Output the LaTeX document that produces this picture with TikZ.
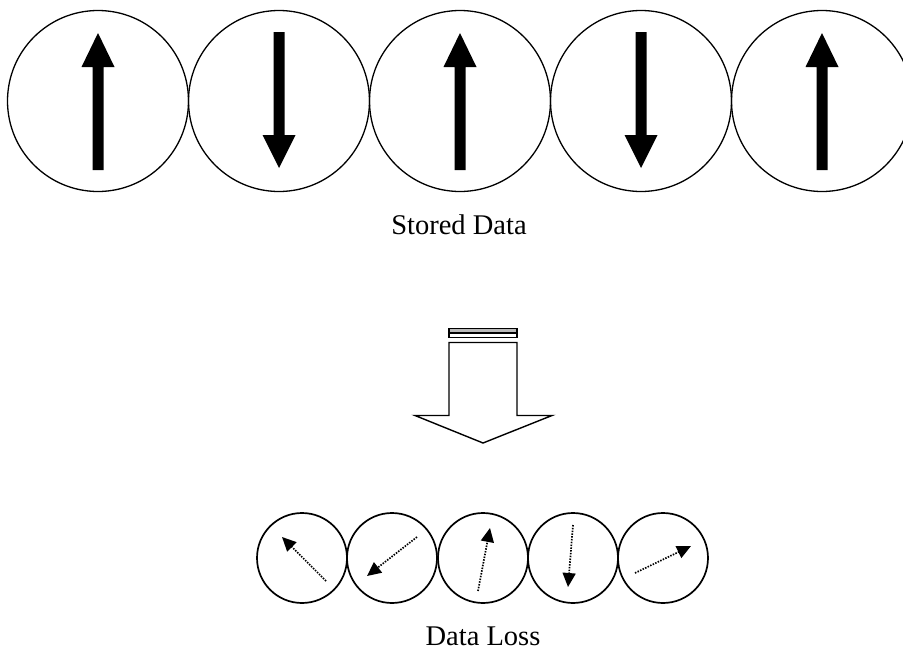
\documentclass[tikz,border=0pt]{standalone}
\usepackage{fontspec}
\setmainfont{Liberation Serif}
\usetikzlibrary{arrows.meta}
\begin{document}
\begin{tikzpicture}[x=1pt,y=-1pt,
  bigcirc/.style={draw,circle,line width=1.3pt,minimum size=181pt,inner sep=0pt},
  smallcirc/.style={draw,circle,line width=1.7pt,minimum size=90pt,inner sep=0pt},
  lostspin/.style={line width=1.7pt,dash pattern=on 1.5pt off 1.3pt,-{Triangle[length=14pt,width=13pt]}},
  hollow/.style={line width=1.4pt,line join=miter},
  label/.style={font=\fontsize{28.5}{32}\selectfont,inner sep=0pt,anchor=base}]
\useasboundingbox (0,0) rectangle (903,656);
\fill[white] (0,0) rectangle (903,656);
% top row
\foreach \i/\x in {1/98,2/279,3/460,4/641,5/822}{
  \node[bigcirc] (c\i) at (\x,101) {};
}
% up arrows
\foreach \x in {98,460,822}{
  \fill (\x-5.5,170) -- (\x+5.5,170) -- (\x+5.5,67) -- (\x+16.5,67)
     -- (\x,33) -- (\x-16.5,67) -- (\x-5.5,67) -- cycle;
}
% down arrows
\foreach \x in {279,641}{
  \fill (\x-5.5,32) -- (\x+5.5,32) -- (\x+5.5,135) -- (\x+16.5,135)
     -- (\x,168) -- (\x-16.5,135) -- (\x-5.5,135) -- cycle;
}
\node[label] (stored) at (459,234) {Stored Data};
% big hollow arrow
\fill[gray!55] (449,328.5) rectangle (517,333);
\draw[hollow] (449,328.5) rectangle (517,333);
\draw[hollow] (449,333) rectangle (517,337.5);
\draw[hollow] (449,342.5) -- (449,415.5) -- (415,415.5) -- (483,443) -- (552,415.5) -- (517,415.5) -- (517,342.5) -- cycle;
% bottom row
\foreach \i/\x in {1/302,2/392,3/483,4/573,5/663}{
  \node[smallcirc] (s\i) at (\x,558) {};
}
\coordinate (t1) at (326,581); \coordinate (h1) at (282,537);
\coordinate (t2) at (417,537); \coordinate (h2) at (367,576);
\coordinate (t3) at (478,591); \coordinate (h3) at (490,528);
\coordinate (t4) at (573,525); \coordinate (h4) at (568,587);
\coordinate (t5) at (635,573); \coordinate (h5) at (691,546);
\foreach \i in {1,...,5}{
  \draw[lostspin] (t\i) -- (h\i);
}
\node[label] (loss) at (483,645) {Data Loss};
\end{tikzpicture}
\end{document}
